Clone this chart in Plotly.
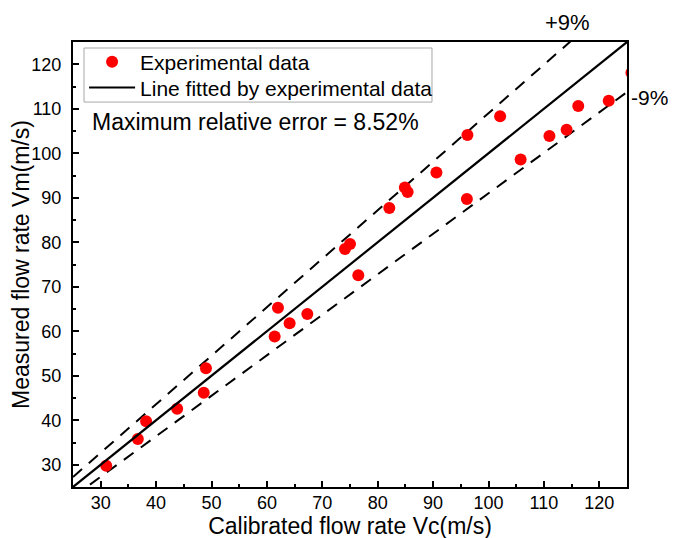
import plotly.graph_objects as go

vc = [31.0, 36.7, 38.2, 43.8, 48.6, 49.0, 61.4, 62.0, 64.1, 67.3,
      74.1, 75.0, 76.5, 82.1, 84.9, 85.4, 90.6, 96.1, 96.2, 102.1,
      105.8, 111.0, 114.1, 116.2, 121.7, 125.8]
vm = [29.8, 35.8, 39.8, 42.6, 46.2, 51.7, 58.8, 65.3, 61.8, 63.9,
      78.5, 79.6, 72.6, 87.7, 92.3, 91.3, 95.7, 89.7, 104.1, 108.3,
      98.6, 103.9, 105.3, 110.6, 111.8, 118.1]

# Fitted line and error band
fit_slope = 1.0
fit_intercept = 0.0
band_upper = 1.09
band_lower = 0.91
line_x = [25, 125]

x_ticks = [30, 40, 50, 60, 70, 80, 90, 100, 110, 120]
y_ticks = [30, 40, 50, 60, 70, 80, 90, 100, 110, 120]

FONT = "Liberation Sans, Arial, sans-serif"

fig = go.Figure()

fig.add_trace(go.Scatter(
    x=line_x, y=[band_upper * v for v in line_x], mode="lines",
    line=dict(color="black", width=2, dash="12px,9px"), showlegend=False,
    hoverinfo="skip"))
fig.add_trace(go.Scatter(
    x=line_x, y=[band_lower * v for v in line_x], mode="lines",
    line=dict(color="black", width=2, dash="12px,9px"), showlegend=False,
    hoverinfo="skip"))
fig.add_trace(go.Scatter(
    x=vc, y=vm, mode="markers", name="Experimental data", legend="legend",
    marker=dict(color="#ff0000", size=12, line=dict(width=0))))
fig.add_trace(go.Scatter(
    x=line_x, y=[fit_slope * v + fit_intercept for v in line_x], mode="lines",
    name="Line fitted by experimental data", legend="legend2",
    line=dict(color="black", width=2.2)))

axis_common = dict(
    showgrid=False, zeroline=False, showline=True, linecolor="black",
    linewidth=2, mirror=True, ticks="inside", ticklen=6, tickwidth=1.5,
    tickcolor="black", tickfont=dict(family=FONT, size=18, color="black"),
    automargin=False,
    minor=dict(ticks="inside", ticklen=3, tickwidth=1.5, dtick=5, tick0=0,
               tickcolor="black", showgrid=False),
)

fig.update_xaxes(range=[25, 125], tickmode="array", tickvals=x_ticks,
                 ticktext=[str(t) for t in x_ticks],
                 title=dict(text="Calibrated flow rate Vc(m/s)",
                            font=dict(family=FONT, size=23, color="black"),
                            standoff=0),
                 ticklabelstandoff=-2,
                 **axis_common)
fig.update_yaxes(range=[25, 125], tickmode="array", tickvals=y_ticks,
                 ticktext=[str(t) for t in y_ticks],
                 title=dict(text="Measured flow rate Vm(m/s)",
                            font=dict(family=FONT, size=23, color="black"),
                            standoff=3),
                 ticklabelstandoff=6,
                 **axis_common)

fig.add_annotation(text="Maximum relative error = 8.52%", xref="paper",
                   yref="paper", x=0.031, y=0.82, xanchor="left",
                   yanchor="middle", showarrow=False,
                   font=dict(family=FONT, size=23, color="black"))
fig.add_annotation(text="+9%", xref="paper", yref="paper", x=0.893, y=1.044,
                   xanchor="center", yanchor="middle", showarrow=False,
                   font=dict(family=FONT, size=22, color="black"))
fig.add_annotation(text="-9%", xref="paper", yref="paper", x=1.004, y=0.876,
                   xanchor="left", yanchor="middle", showarrow=False,
                   font=dict(family=FONT, size=21, color="black"))

# legend frame
fig.add_shape(type="rect", xref="paper", yref="paper",
              x0=0.0199, x1=0.648, y0=0.865, y1=0.9865,
              line=dict(color="#a8a8a8", width=1), fillcolor="rgba(0,0,0,0)")

legend_common = dict(xanchor="left", yanchor="middle",
                     bgcolor="rgba(255,255,255,0)", borderwidth=0,
                     font=dict(family=FONT, size=21, color="black"),
                     itemwidth=46)

# page body has an 8px margin, so the figure is sized/offset to compensate
fig.update_layout(
    width=668, height=538,
    margin=dict(l=65, r=49, t=34, b=59),
    paper_bgcolor="white", plot_bgcolor="white",
    font=dict(family=FONT, color="black"),
    legend=dict(x=0.02, y=0.955, **legend_common),
    legend2=dict(x=0.02, y=0.897, **legend_common),
)

fig.write_html("out.html")
